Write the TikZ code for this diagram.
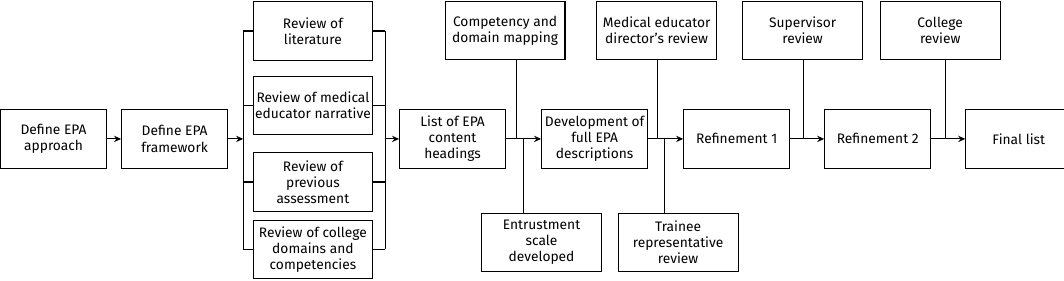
\documentclass[tikz,border=0pt]{standalone}
\usepackage{fontspec}
\setmainfont{Fira Sans}
\usepackage{tikz}
\usetikzlibrary{positioning,arrows.meta,calc}

\begin{document}
\begin{tikzpicture}[
  font=\fontsize{9.8}{11.4}\selectfont,
  line width=0.8pt,
  stage/.style={draw, align=center, inner sep=1pt,
                minimum width=2.65cm, minimum height=1.46cm},
  side/.style={stage, minimum width=3.0cm},
  arr/.style={-{Stealth[length=5pt,width=4.5pt]}}
]
\useasboundingbox (-1.34,-3.55) rectangle (25.275,3.475);

% main row
\node[stage] (approach) at (0,0) {Define EPA\\approach};
\node[stage, right=0.35cm of approach] (framework) {Define EPA\\framework};
\node[stage, right=4.275cm of framework] (list) {List of EPA\\content\\headings};
\node[stage, right=0.875cm of list] (dev) {Development of\\full EPA\\descriptions};
\node[stage, right=0.875cm of dev] (ref1) {Refinement 1};
\node[stage, right=0.85cm of ref1] (ref2) {Refinement 2};
\node[stage, right=0.85cm of ref2] (final) {Final list};

% review column
\node[side, minimum width=2.975cm] (rev1) at (6.4875,2.70) {Review of\\literature};
\node[side, minimum width=2.975cm, below=0.38cm of rev1] (rev2) {Review of medical\\educator narrative};
\node[side, minimum width=2.975cm, below=0.42cm of rev2] (rev3) {Review of\\previous\\assessment};
\node[side, minimum width=2.975cm, below=0.2cm of rev3] (rev4) {Review of college\\domains and\\competencies};

% inputs above and below
\node[side, above=1.225cm of list, xshift=1.3125cm] (mapping) {Competency and\\domain mapping};
\node[side, below=1.1cm of list, xshift=2.225cm] (scale) {Entrustment\\scale\\developed};
\node[side, above=1.225cm of dev, xshift=1.55cm] (director) {Medical educator\\director's review};
\node[side, below=1.1cm of dev, xshift=2.0875cm] (trainee) {Trainee\\representative\\review};
\node[side, above=1.225cm of ref1, xshift=1.65cm] (supervisor) {Supervisor\\review};
\node[side, above=1.225cm of ref2, xshift=1.5625cm] (college) {College\\review};

% brackets round the reviews
\coordinate (bl) at ($(framework.east)+(0.375,0)$);
\coordinate (br) at ($(list.west)+(-0.35,0)$);
\draw (rev1.west -| bl) -- (rev4.west -| bl);
\draw (rev1.east -| br) -- (rev4.east -| br);
\foreach \r in {rev1,rev2,rev3,rev4} {
  \draw (bl |- \r.west) -- (\r.west);
  \draw (\r.east) -- (br |- \r.east);
}

% junctions
\coordinate (j1) at ($(list.east)+(0.25,0)$);
\coordinate (j2) at ($(list.east)+(0.425,0)$);
\coordinate (j3) at ($(dev.east)+(0.225,0)$);
\coordinate (j4) at ($(dev.east)+(0.4,0)$);
\coordinate (j5) at ($(ref1.east)+(0.325,0)$);
\coordinate (j6) at ($(ref2.east)+(0.35,0)$);

\draw (mapping.south -| j1) -- (j1);
\draw (scale.north -| j2) -- (j2);
\draw (director.south -| j3) -- (j3);
\draw (trainee.north -| j4) -- (j4);
\draw (supervisor.south -| j5) -- (j5);
\draw (college.south -| j6) -- (j6);

% flow
\draw[arr] (approach) -- (framework);
\draw[arr] (framework) -- (bl);
\draw[arr] (br) -- (list);
\draw[arr] (list) -- (dev);
\draw[arr] (dev) -- (ref1);
\draw[arr] (ref1) -- (ref2);
\draw[arr] (ref2) -- (final);
\end{tikzpicture}
\end{document}
